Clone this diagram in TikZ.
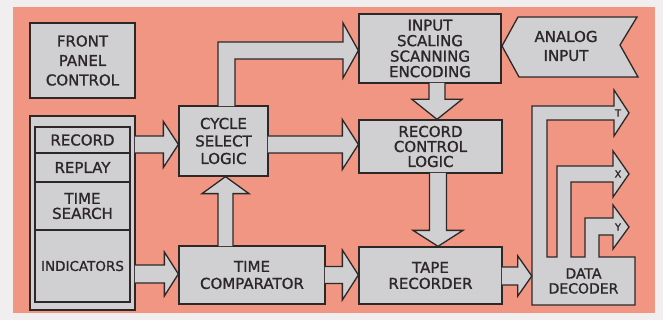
\documentclass[tikz,border=0pt]{standalone}
\usepackage{fontspec}
\setmainfont{DejaVu Sans}[FakeBold=1.2]
\usetikzlibrary{calc}
\definecolor{salmon}{RGB}{240,150,130}
\definecolor{boxgray}{RGB}{208,208,211}
\definecolor{ink}{RGB}{45,40,40}
\definecolor{paper}{RGB}{240,238,238}
\newcommand{\lt}[1]{\fontsize{15}{#1}\selectfont}
\newcommand{\fatright}[6]{\filldraw[fat] ($(#1.east|-0,#3)+(-0.8,-#4)$) -- ($(#2.west|-0,#3)+(-#6,-#4)$) -- ++(0,#4-#5) -- (#2.west|-0,#3) -- ($(#2.west|-0,#3)+(-#6,#5)$) -- ++(0,#4-#5) -- ($(#1.east|-0,#3)+(-0.8,#4)$);}
\newcommand{\fatdown}[6]{\filldraw[fat] ($(#1.south-|#3,0)+(-#4,-0.8)$) -- ($(#2.north-|#3,0)+(-#4,-#6)$) -- ++(#4-#5,0) -- (#2.north-|#3,0) -- ($(#2.north-|#3,0)+(#5,-#6)$) -- ++(#4-#5,0) -- ($(#1.south-|#3,0)+(#4,-0.8)$);}
\newcommand{\fatup}[6]{\filldraw[fat] ($(#1.north-|#3,0)+(-#4,0.8)$) -- ($(#2.south-|#3,0)+(-#4,#6)$) -- ++(#4-#5,0) -- (#2.south-|#3,0) -- ($(#2.south-|#3,0)+(#5,#6)$) -- ++(#4-#5,0) -- ($(#1.north-|#3,0)+(#4,0.8)$);}
\begin{document}
\begin{tikzpicture}[x=1pt,y=-1pt, box/.style={draw=ink,fill=boxgray,line width=1.3pt,align=center,inner sep=0pt,text=ink,font=\lt{16}}, fat/.style={draw=ink,fill=boxgray,line width=1.3pt,line join=miter}, lbl/.style={align=center,inner sep=0pt,text=ink,font=\lt{16}}, tag/.style={inner sep=0pt,text=ink,font=\fontsize{10}{10}\selectfont}]
\useasboundingbox[fill=paper] (0,0) rectangle (663,320);
\fill[salmon] (13,7) rectangle (655,313);
\node[box,minimum width=105pt,minimum height=75pt,font=\lt{19.5}] (fpc) at (82.5,60.5) {FRONT\\PANEL\\CONTROL};
\node[box,minimum width=105pt,minimum height=194pt] (ctl) at (82.5,213) {};
\node[box,minimum width=95pt,minimum height=26pt] (rec) at (82.5,140) {RECORD};
\node[box,minimum width=95pt,minimum height=29pt] (rep) at (82.5,167.5) {REPLAY};
\node[box,minimum width=95pt,minimum height=48pt,font=\lt{15}] (tsr) at (82.5,206) {TIME\\SEARCH};
\node[box,minimum width=95pt,minimum height=72pt,font=\fontsize{13.5}{15}\selectfont] (ind) at (82.5,266) {INDICATORS};
\node[box,minimum width=89pt,minimum height=70pt,font=\lt{17.5}] (cyc) at (223.5,141) {CYCLE\\SELECT\\LOGIC};
\node[box,minimum width=142pt,minimum height=69pt,font=\lt{15.5}] (inp) at (430,48.5) {INPUT\\SCALING\\SCANNING\\ENCODING};
\node[box,minimum width=143pt,minimum height=53pt,font=\lt{15}] (rcl) at (430.5,146.5) {RECORD\\CONTROL\\LOGIC};
\node[box,minimum width=146pt,minimum height=58pt,font=\lt{17}] (tcm) at (252,275) {TIME\\COMPARATOR};
\node[box,minimum width=143pt,minimum height=57pt] (tap) at (430.5,275.5) {TAPE\\RECORDER};
\filldraw[fat] (502,46) -- (518,17) -- (637,17) -- (620,45) -- (638,77) -- (519,77) -- cycle;
\node[lbl,font=\lt{19}] (ana) at (566,46) {ANALOG\\INPUT};
\filldraw[fat] (532,305) -- (532,106) -- (614,106) -- (614,90) -- (629,113) -- (614,136) -- (614,120) -- (547,120) -- (547,257) -- (557,257) -- (557,166) -- (613,166) -- (613,151) -- (629,174) -- (613,197) -- (613,182) -- (571,182) -- (571,257) -- (585,257) -- (585,218) -- (613,218) -- (613,205) -- (629,227) -- (613,249) -- (613,235) -- (599,235) -- (599,257) -- (635,257) -- (635,305) -- cycle;
\node[lbl,minimum width=103pt,minimum height=48pt,font=\fontsize{14}{15}\selectfont] (dec) at (583.5,281) {DATA\\DECODER};
\node[tag] (tagt) at (618,113) {T};
\node[tag] (tagx) at (618,174) {X};
\node[tag] (tagy) at (618,227) {Y};
\fatright{ctl}{cyc}{144.5}{8.5}{23}{15}
\fatright{ctl}{tcm}{274}{9}{22}{14}
\fatright{cyc}{rcl}{144.5}{8.5}{25}{16}
\fatright{tcm}{tap}{275}{8.5}{25}{16}
\fatright{tap}{dec}{276}{9}{20}{14}
\fatdown{inp}{rcl}{437}{8}{25}{20}
\fatdown{rcl}{tap}{438}{8.5}{25}{16}
\fatup{tcm}{cyc}{225.5}{7.5}{23.5}{17}
\filldraw[fat] ($(218,0|-cyc.north)+(0,0.8)$) -- (218,42) -- (343,42) -- (343,23) -- (inp.west|-0,50.5) -- (343,78) -- (343,59) -- (235,59) -- ($(235,0|-cyc.north)+(0,0.8)$);
\end{tikzpicture}
\end{document}
